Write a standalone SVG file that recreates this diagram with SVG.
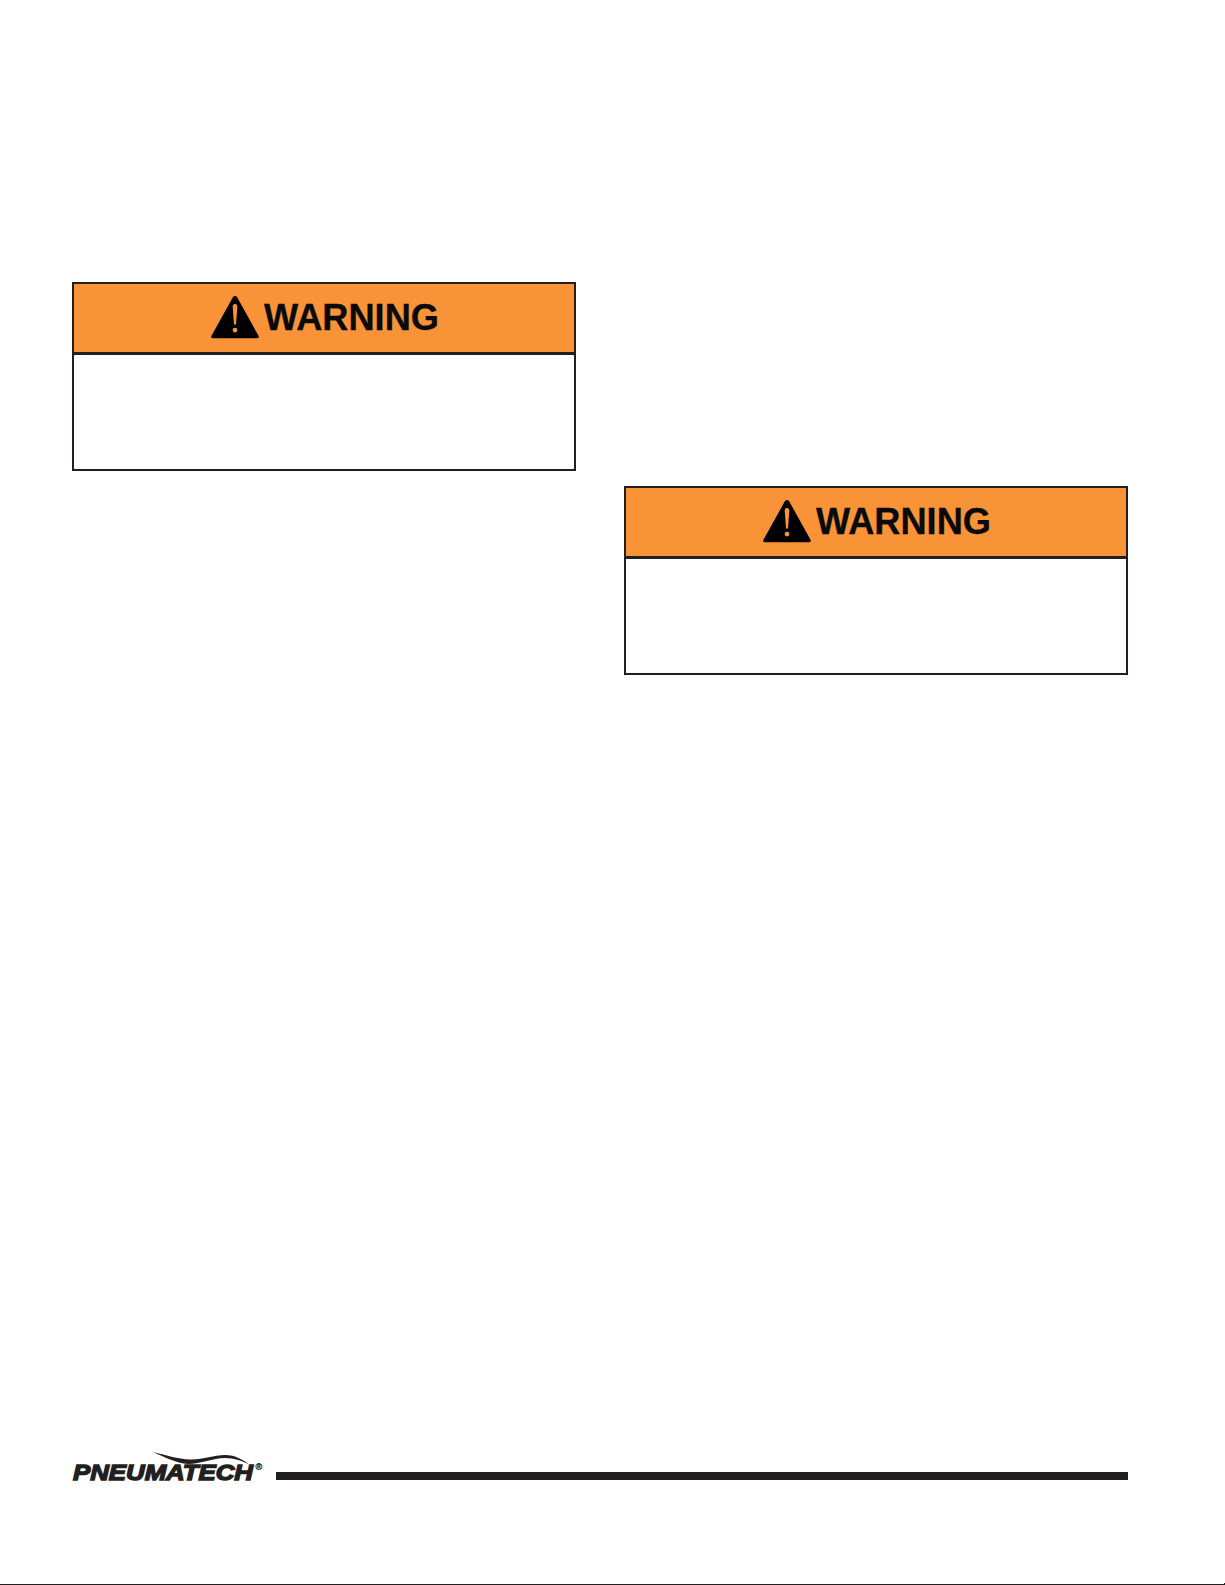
<svg xmlns="http://www.w3.org/2000/svg" width="1225" height="1585" viewBox="0 0 1225 1585">
<defs>
<style>
.box{fill:#fff;stroke:#231f20;stroke-width:2}
.hd{fill:#f99338}
.div{stroke:#231f20;stroke-width:3}
.w{font-family:"Liberation Sans",Arial,sans-serif;font-weight:700;font-size:36px;fill:#0a0a0a;stroke:#0a0a0a;stroke-width:.3}
.logo{font-family:"Liberation Sans",Arial,sans-serif;font-weight:700;font-style:italic;font-size:22.5px;fill:#231f20;stroke:#231f20;stroke-width:1.4}
</style>
<g id="wsign">
<path d="M-2 -20.5Q0 -22.5 2 -20.5L23.5 18.3Q24.5 20.8 22 20.8H-22Q-24.5 20.8 -23.5 18.3Z" fill="#000"/>
<path d="M0 -13.5C-2 -13.5 -2.4 -12 -2.3 -10.5L-1 7H1L2.3 -10.5C2.4 -12 2 -13.5 0 -13.5Z" fill="#f99338"/>
<circle cx="0" cy="12.6" r="2.4" fill="#f99338"/>
</g>
</defs>
<rect width="1225" height="1585" fill="#fff"/>
<g id="warning-1">
<rect class="box" x="73" y="283" width="502" height="187"/>
<rect class="hd" x="74" y="284" width="500" height="69"/>
<line class="div" x1="73" x2="575" y1="353.5" y2="353.5"/>
<use href="#wsign" x="235" y="317.5"/>
<text class="w" x="264" y="330" textLength="175" lengthAdjust="spacingAndGlyphs">WARNING</text>
</g>
<g id="warning-2">
<rect class="box" x="625" y="487" width="502" height="187"/>
<rect class="hd" x="626" y="488" width="500" height="69"/>
<line class="div" x1="625" x2="1127" y1="557.5" y2="557.5"/>
<use href="#wsign" x="787" y="521.5"/>
<text class="w" x="816" y="534" textLength="175" lengthAdjust="spacingAndGlyphs">WARNING</text>
</g>
<g id="logo">
<text class="logo" x="73" y="1480" textLength="180" lengthAdjust="spacingAndGlyphs">PNEUMATECH</text>
<path d="M153 1452C165 1455 178 1459 190 1459.5C203 1460 213 1455 225 1455C235 1455 244 1460 250 1465C243 1461 234 1458 225 1458C213 1458 201 1464 188 1464C176 1463 164 1457 153 1452Z" fill="#231f20"/>
<text x="255.5" y="1470" font-family="Liberation Sans, Arial, sans-serif" font-size="9" font-weight="700" fill="#231f20" stroke="#231f20" stroke-width=".3">®</text>
</g>
<g id="rules">
<rect x="276" y="1472" width="852" height="8" fill="#231f20"/>
<rect x="0" y="1584" width="1225" height="1" fill="#231f20"/>
<rect x="1224" y="1583" width="1" height="2" fill="#231f20"/>
</g>
</svg>
